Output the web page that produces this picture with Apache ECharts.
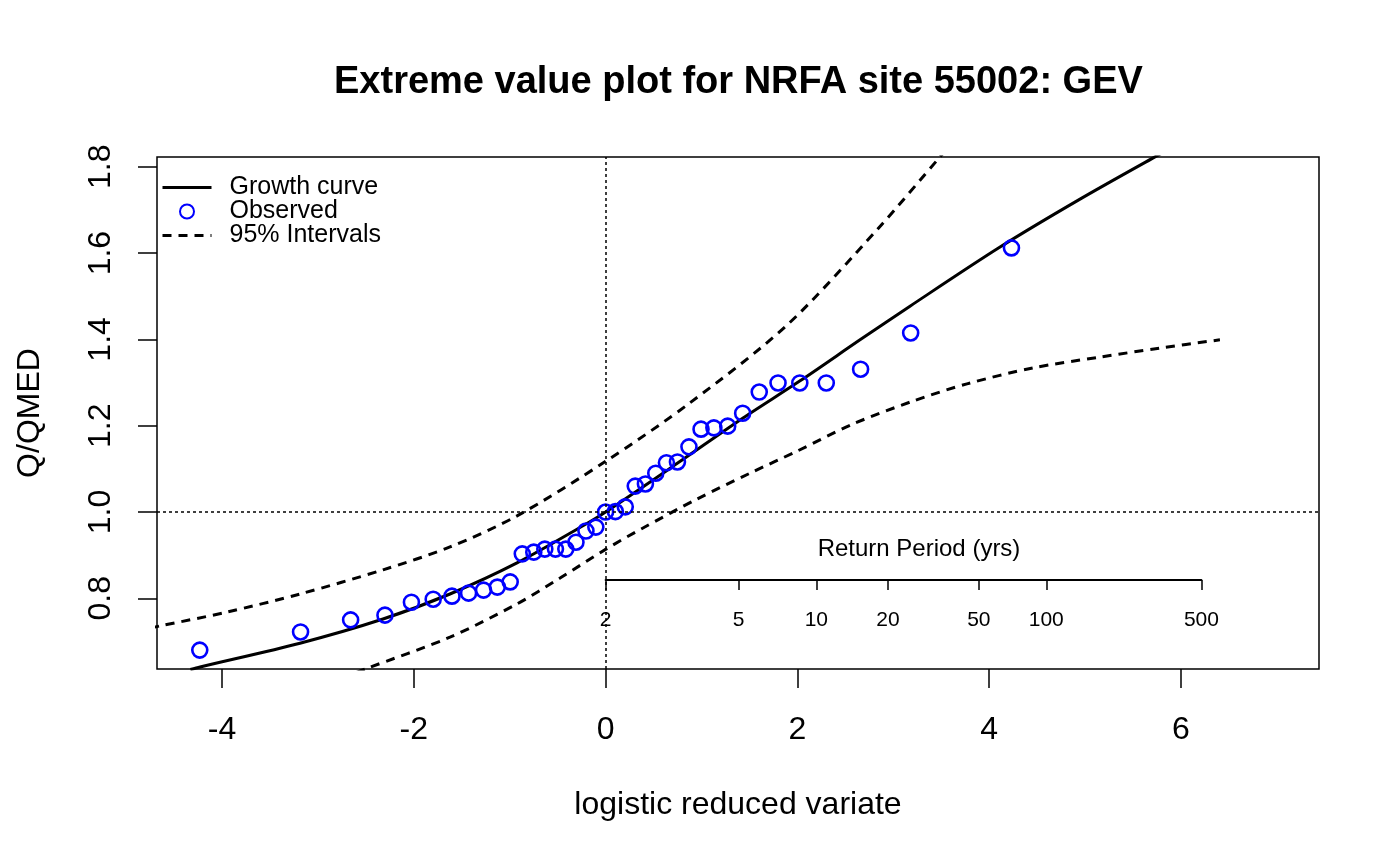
<!DOCTYPE html>
<html>
<head>
<meta charset="utf-8">
<title>Extreme value plot</title>
<script src="https://cdn.jsdelivr.net/npm/echarts@6/dist/echarts.min.js"></script>
<style>
  html, body { margin: 0; padding: 0; background: #fff; }
  #chart { width: 1400px; height: 865px; }
</style>
</head>
<body>
<div id="chart"></div>
<script>
// growth curve (logistic reduced variate -> Q/QMED)
const growthX = [-4.33, -4.229, -3.187, -2.321, -1.623, -0.924, -0.236, 0.000, 0.755, 1.433, 2.028, 2.653, 3.174, 4.113, 4.947, 5.729, 6.00];
const growthY = [0.635, 0.641, 0.696, 0.752, 0.810, 0.882, 0.968, 1.000, 1.114, 1.218, 1.304, 1.399, 1.477, 1.614, 1.725, 1.823, 1.856];

// 95% intervals
const upperX = [-4.75, -4.647, -3.948, -3.187, -2.321, -1.623, -0.924, 0.004, 0.880, 1.891, 2.830, 3.487, 3.65];
const upperY = [0.731, 0.736, 0.768, 0.810, 0.866, 0.919, 0.991, 1.118, 1.253, 1.433, 1.654, 1.823, 1.865];
const lowerX = [-2.60, -2.509, -1.623, -0.924, -0.475, 0.004, 0.390, 0.953, 1.506, 1.996, 2.580, 3.204, 3.768, 4.456, 5.155, 5.781, 6.406];
const lowerY = [0.628, 0.636, 0.710, 0.787, 0.847, 0.914, 0.963, 1.030, 1.090, 1.141, 1.204, 1.257, 1.297, 1.334, 1.359, 1.380, 1.399];

// observed annual maxima (plotting positions)
const obsX = [-4.232, -3.181, -2.659, -2.301, -2.025, -1.798, -1.602, -1.429, -1.273, -1.129,
  -0.995, -0.869, -0.749, -0.634, -0.523, -0.415, -0.309, -0.205, -0.102, 0.000,
  0.102, 0.205, 0.309, 0.415, 0.523, 0.634, 0.749, 0.869, 0.995, 1.129,
  1.273, 1.429, 1.602, 1.798, 2.025, 2.301, 2.659, 3.181, 4.232];
const obsY = [0.680, 0.722, 0.750, 0.761, 0.791, 0.798, 0.805, 0.812, 0.819, 0.826,
  0.838, 0.903, 0.907, 0.914, 0.914, 0.914, 0.930, 0.956, 0.965, 1.000,
  1.001, 1.012, 1.060, 1.065, 1.090, 1.114, 1.116, 1.151, 1.192, 1.195,
  1.199, 1.229, 1.278, 1.299, 1.299, 1.299, 1.331, 1.415, 1.612];

const xTicks = [-4, -2, 0, 2, 4, 6];
const yTicks = [0.8, 1.0, 1.2, 1.4, 1.6, 1.8];
const returnPeriods = [2, 5, 10, 20, 50, 100, 500];

const font = '"Liberation Sans", Arial, Helvetica, sans-serif';
const pairs = (xs, ys) => xs.map((x, i) => [x, ys[i]]);
const rpValues = returnPeriods.map(t => Math.log(t - 1));

const chart = echarts.init(document.getElementById('chart'));

chart.setOption({
  animation: false,
  backgroundColor: '#fff',
  textStyle: { fontFamily: font, color: '#000' },
  title: {
    text: 'Extreme value plot for NRFA site 55002: GEV',
    left: 334,
    top: 64,
    padding: 0,
    textStyle: { fontSize: 38, fontWeight: 'bold', fontFamily: font, color: '#000' }
  },
  legend: {
    orient: 'vertical',
    left: 156,
    top: 170,
    itemWidth: 49,
    itemHeight: 14,
    itemGap: -1,
    data: [
      { name: 'Growth curve', itemStyle: { opacity: 0 }, lineStyle: { width: 3 } },
      { name: 'Observed' },
      { name: '95% Intervals', itemStyle: { opacity: 0 }, lineStyle: { width: 3 } }
    ],
    textStyle: { fontSize: 25, lineHeight: 23, fontFamily: font, color: '#000', padding: [0, 0, 0, 13] }
  },
  grid: [
    { left: 157, top: 157, width: 1162, height: 512, show: true, borderColor: '#000', borderWidth: 1.5, backgroundColor: 'transparent' },
    { left: 605.6, top: 560, width: 595.8, height: 20 }
  ],
  xAxis: [
    {
      type: 'value', gridIndex: 0, min: -4.678, max: 7.439,
      name: 'logistic reduced variate', nameLocation: 'middle', nameGap: 120,
      nameTextStyle: { fontSize: 32, fontFamily: font, color: '#000' },
      axisLine: { show: false, onZero: false },
      axisTick: { show: true, length: 19, customValues: xTicks, lineStyle: { color: '#000', width: 1.5 } },
      axisLabel: { customValues: xTicks, fontSize: 32, margin: 45, color: '#000', fontFamily: font },
      splitLine: { show: false }
    },
    {
      type: 'value', gridIndex: 1, min: 0, max: rpValues[rpValues.length - 1], position: 'bottom',
      axisLine: { show: true, onZero: false, lineStyle: { color: '#000', width: 2 } },
      axisTick: { show: true, length: 10, customValues: rpValues, lineStyle: { color: '#000', width: 1.5 } },
      axisLabel: {
        customValues: rpValues, fontSize: 21, margin: 30, color: '#000', fontFamily: font,
        formatter: v => String(Math.round(Math.exp(v) + 1))
      },
      splitLine: { show: false }
    }
  ],
  yAxis: [
    {
      type: 'value', gridIndex: 0, min: 0.6362, max: 1.8227,
      name: 'Q/QMED', nameLocation: 'middle', nameGap: 111,
      nameTextStyle: { fontSize: 32, fontFamily: font, color: '#000' },
      axisLine: { show: false, onZero: false },
      axisTick: { show: true, length: 19, customValues: yTicks, lineStyle: { color: '#000', width: 1.5 } },
      axisLabel: {
        customValues: yTicks, rotate: 90, fontSize: 32, margin: 40, color: '#000', fontFamily: font,
        formatter: v => v.toFixed(1)
      },
      splitLine: { show: false }
    },
    { type: 'value', gridIndex: 1, show: false, min: 0, max: 1 }
  ],
  graphic: [
    {
      type: 'text', x: 919, y: 549,
      style: { text: 'Return Period (yrs)', fontSize: 24, fontFamily: font, fill: '#000', align: 'center', verticalAlign: 'middle' }
    }
  ],
  series: [
    {
      name: 'Growth curve', type: 'line', smooth: 0.3, symbol: 'none',
      data: pairs(growthX, growthY),
      lineStyle: { color: '#000', width: 3 },
      itemStyle: { color: '#000' },
      markLine: {
        silent: true, symbol: 'none', label: { show: false },
        lineStyle: { color: '#000', width: 1.5, type: [3, 3] },
        data: [{ xAxis: 0 }, { yAxis: 1 }]
      },
      z: 3
    },
    {
      name: 'Observed', type: 'scatter', symbol: 'circle', symbolSize: 15,
      data: pairs(obsX, obsY),
      itemStyle: { color: 'transparent', borderColor: '#0000ff', borderWidth: 2.6, opacity: 1 },
      z: 4
    },
    {
      name: '95% Intervals', type: 'line', smooth: 0.3, symbol: 'none',
      data: pairs(upperX, upperY),
      lineStyle: { color: '#000', width: 3, type: [9, 7] },
      itemStyle: { color: '#000' },
      z: 3
    },
    {
      name: '95% Intervals', type: 'line', smooth: 0.3, symbol: 'none',
      data: pairs(lowerX, lowerY),
      lineStyle: { color: '#000', width: 3, type: [9, 7] },
      itemStyle: { color: '#000' },
      z: 3
    }
  ]
});
</script>
</body>
</html>
